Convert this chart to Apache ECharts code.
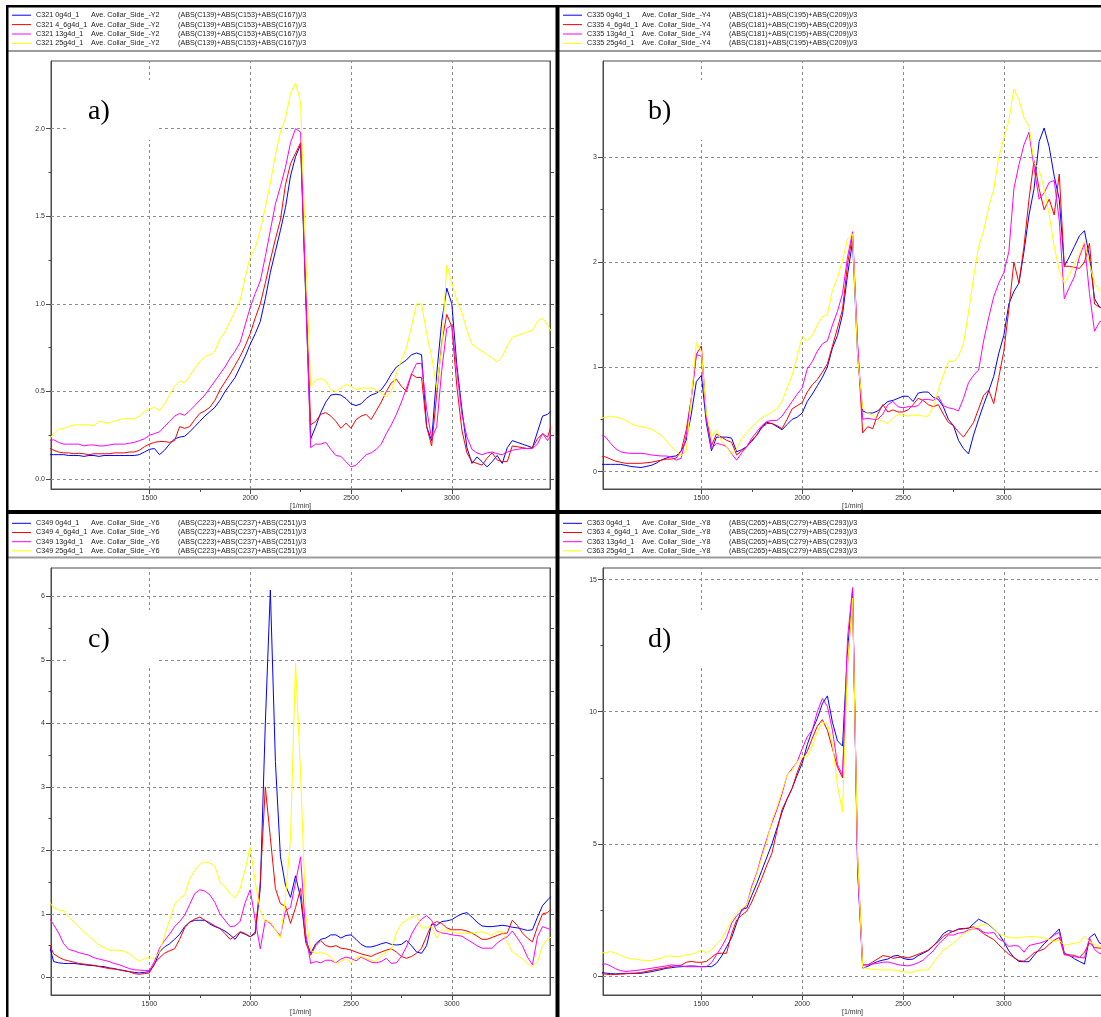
<!DOCTYPE html>
<html>
<head>
<meta charset="utf-8">
<script src="https://cdn.jsdelivr.net/npm/echarts@6/dist/echarts.min.js"></script>
<style>
  html, body { margin: 0; padding: 0; background: #ffffff; }
  #chart { width: 1101px; height: 1017px; }
</style>
</head>
<body>
<div id="chart"></div>
<script>
// Engine speed grid shared by every trace [1/min]
const RPM = [
  1000,1025,1050,1075,1100,1125,1150,1175,1200,1225,
  1250,1275,1300,1325,1350,1375,1400,1425,1450,1475,
  1500,1525,1550,1575,1600,1625,1650,1675,1700,1725,
  1750,1775,1800,1825,1850,1875,1900,1925,1950,1975,
  2000,2025,2050,2075,2100,2125,2150,2175,2200,2225,
  2250,2275,2300,2325,2350,2375,2400,2425,2450,2475,
  2500,2525,2550,2575,2600,2625,2650,2675,2700,2725,
  2750,2775,2800,2825,2850,2875,2900,2925,2950,2975,
  3000,3025,3050,3075,3100,3125,3150,3175,3200,3225,
  3250,3275,3300,3325,3350,3375,3400,3425,3450,3475,
  3500
];

// a) C321 Ave. Collar_Side_-Y2
const A_0 = [
  0.14,0.14,0.14,0.14,0.135,0.135,0.135,0.13,0.135,0.135,
  0.13,0.135,0.135,0.135,0.135,0.135,0.135,0.135,0.14,0.155,
  0.17,0.175,0.14,0.165,0.2,0.23,0.24,0.245,0.27,0.3,
  0.33,0.36,0.385,0.41,0.45,0.5,0.54,0.58,0.64,0.7,
  0.77,0.83,0.9,1.03,1.18,1.3,1.42,1.55,1.73,1.84,
  1.91,1.05,0.23,0.3,0.38,0.44,0.48,0.485,0.48,0.46,
  0.43,0.42,0.43,0.46,0.48,0.49,0.51,0.55,0.6,0.64,
  0.66,0.68,0.71,0.72,0.71,0.3,0.22,0.6,0.9,1.09,
  1.0,0.65,0.4,0.18,0.09,0.127,0.1,0.07,0.1,0.135,
  0.09,0.18,0.22,0.21,0.2,0.19,0.18,0.27,0.36,0.37,
  0.4
];
const A_4 = [
  0.18,0.165,0.155,0.15,0.15,0.145,0.148,0.145,0.14,0.145,
  0.145,0.145,0.145,0.15,0.15,0.15,0.155,0.155,0.165,0.185,
  0.2,0.21,0.215,0.215,0.21,0.22,0.3,0.29,0.3,0.34,
  0.375,0.39,0.41,0.45,0.51,0.555,0.6,0.65,0.7,0.76,
  0.83,0.92,1.0,1.12,1.25,1.37,1.48,1.68,1.8,1.86,
  1.92,1.1,0.31,0.33,0.37,0.38,0.36,0.33,0.29,0.32,
  0.29,0.34,0.36,0.37,0.34,0.39,0.44,0.5,0.55,0.57,
  0.53,0.5,0.6,0.58,0.58,0.3,0.19,0.48,0.78,0.94,
  0.87,0.53,0.28,0.15,0.1,0.09,0.08,0.12,0.15,0.11,
  0.1,0.1,0.19,0.185,0.18,0.175,0.18,0.23,0.26,0.24,
  0.33
];
const A_13 = [
  0.22,0.225,0.21,0.2,0.2,0.2,0.2,0.19,0.195,0.195,
  0.19,0.19,0.195,0.2,0.2,0.2,0.205,0.21,0.22,0.23,
  0.25,0.26,0.27,0.3,0.33,0.36,0.375,0.365,0.39,0.42,
  0.45,0.48,0.52,0.56,0.6,0.64,0.69,0.73,0.78,0.88,
  0.98,1.06,1.13,1.27,1.42,1.57,1.67,1.78,1.92,2.0,
  1.98,1.08,0.18,0.2,0.2,0.21,0.17,0.135,0.13,0.1,
  0.07,0.08,0.11,0.14,0.15,0.17,0.2,0.26,0.31,0.37,
  0.44,0.52,0.6,0.66,0.66,0.4,0.23,0.3,0.62,0.86,
  0.88,0.62,0.37,0.24,0.17,0.15,0.14,0.15,0.155,0.145,
  0.14,0.155,0.165,0.17,0.175,0.175,0.175,0.2,0.26,0.22,
  0.27
];
const A_25 = [
  0.22,0.26,0.285,0.29,0.3,0.31,0.31,0.31,0.31,0.305,
  0.33,0.325,0.32,0.33,0.34,0.345,0.345,0.345,0.36,0.385,
  0.4,0.41,0.39,0.43,0.48,0.53,0.56,0.55,0.59,0.63,
  0.67,0.7,0.71,0.73,0.8,0.84,0.9,0.96,1.02,1.15,
  1.27,1.32,1.42,1.55,1.69,1.85,1.98,2.06,2.2,2.26,
  2.15,1.3,0.53,0.565,0.575,0.56,0.51,0.5,0.52,0.54,
  0.53,0.51,0.52,0.52,0.52,0.51,0.49,0.47,0.5,0.6,
  0.68,0.75,0.87,1.0,1.0,0.83,0.7,0.52,0.75,1.22,
  1.12,1.02,0.95,0.85,0.77,0.75,0.73,0.71,0.69,0.67,
  0.7,0.76,0.81,0.82,0.83,0.84,0.85,0.9,0.92,0.88,
  0.83
];

// b) C335 Ave. Collar_Side_-Y4
const B_0 = [
  0.07,0.07,0.07,0.07,0.07,0.06,0.05,0.045,0.04,0.05,
  0.06,0.08,0.11,0.13,0.145,0.15,0.2,0.3,0.55,0.86,
  0.92,0.46,0.2,0.33,0.33,0.33,0.32,0.19,0.21,0.24,
  0.29,0.35,0.43,0.47,0.46,0.43,0.4,0.45,0.5,0.52,
  0.56,0.67,0.74,0.82,0.9,1.0,1.18,1.3,1.5,1.88,
  2.2,1.1,0.58,0.56,0.56,0.58,0.63,0.67,0.68,0.7,
  0.72,0.72,0.67,0.75,0.76,0.76,0.71,0.69,0.62,0.5,
  0.44,0.3,0.22,0.17,0.35,0.5,0.64,0.77,0.91,1.13,
  1.3,1.6,1.72,1.8,2.1,2.45,2.7,3.15,3.28,3.1,
  2.82,2.6,1.96,2.05,2.15,2.25,2.3,2.05,1.65,1.57,
  1.55
];
const B_4 = [
  0.15,0.14,0.12,0.1,0.09,0.08,0.08,0.08,0.08,0.085,
  0.09,0.1,0.11,0.12,0.12,0.13,0.2,0.4,0.7,1.12,
  1.2,0.52,0.25,0.36,0.33,0.3,0.28,0.16,0.2,0.24,
  0.3,0.35,0.42,0.46,0.46,0.44,0.41,0.5,0.6,0.63,
  0.66,0.76,0.83,0.88,0.95,1.03,1.2,1.37,1.55,1.98,
  2.26,1.2,0.37,0.43,0.41,0.55,0.64,0.57,0.59,0.57,
  0.57,0.59,0.64,0.7,0.68,0.64,0.62,0.64,0.55,0.47,
  0.44,0.38,0.33,0.4,0.47,0.6,0.73,0.78,0.65,0.9,
  1.15,1.55,2.0,1.8,2.15,2.6,2.97,2.7,2.5,2.6,
  2.45,2.84,1.96,1.96,1.95,1.94,2.0,2.18,1.6,1.57,
  1.55
];
const B_13 = [
  0.35,0.33,0.27,0.22,0.19,0.18,0.175,0.175,0.175,0.17,
  0.16,0.155,0.15,0.15,0.14,0.11,0.13,0.35,0.7,1.12,
  1.1,0.5,0.22,0.27,0.26,0.24,0.17,0.11,0.18,0.24,
  0.32,0.38,0.44,0.48,0.49,0.49,0.53,0.6,0.67,0.74,
  0.8,0.98,1.05,1.15,1.22,1.25,1.4,1.53,1.7,2.05,
  2.29,1.2,0.5,0.51,0.5,0.5,0.55,0.64,0.67,0.62,
  0.61,0.62,0.62,0.63,0.69,0.69,0.68,0.72,0.63,0.61,
  0.6,0.58,0.7,0.85,0.92,0.97,1.25,1.47,1.67,1.8,
  1.9,2.1,2.7,2.93,3.12,3.24,2.9,2.6,2.66,2.76,
  2.78,2.4,1.65,1.76,1.86,2.05,2.18,1.7,1.34,1.43,
  1.45
];
const B_25 = [
  0.51,0.52,0.53,0.52,0.51,0.49,0.46,0.44,0.43,0.42,
  0.41,0.38,0.35,0.3,0.24,0.2,0.15,0.2,0.7,1.23,
  1.15,0.55,0.33,0.4,0.29,0.24,0.16,0.22,0.32,0.37,
  0.43,0.47,0.52,0.54,0.57,0.6,0.67,0.8,0.92,1.1,
  1.29,1.25,1.3,1.4,1.48,1.5,1.73,1.85,2.02,2.22,
  2.27,1.1,0.6,0.56,0.54,0.5,0.48,0.46,0.51,0.55,
  0.54,0.53,0.54,0.54,0.53,0.53,0.62,0.78,0.92,1.05,
  1.05,1.1,1.22,1.52,1.85,2.15,2.3,2.52,2.7,3.0,
  3.18,3.35,3.65,3.55,3.38,3.3,2.95,2.88,2.7,2.45,
  2.15,1.92,1.8,1.88,1.98,2.08,2.2,1.98,1.8,1.73,
  1.7
];

// c) C349 Ave. Collar_Side_-Y6
const C_0 = [
  0.55,0.25,0.23,0.22,0.22,0.22,0.21,0.2,0.19,0.185,
  0.175,0.17,0.15,0.14,0.12,0.11,0.09,0.08,0.07,0.08,
  0.09,0.2,0.4,0.48,0.53,0.6,0.68,0.8,0.87,0.9,
  0.9,0.9,0.84,0.8,0.77,0.73,0.67,0.6,0.71,0.68,
  0.64,0.69,1.4,4.0,6.1,3.4,1.9,1.45,1.26,1.6,
  1.25,0.6,0.38,0.53,0.6,0.62,0.67,0.67,0.62,0.66,
  0.67,0.6,0.52,0.48,0.48,0.5,0.53,0.55,0.52,0.51,
  0.52,0.58,0.5,0.4,0.38,0.5,0.84,0.82,0.88,0.89,
  0.91,0.96,1.0,1.02,0.95,0.87,0.81,0.8,0.8,0.81,
  0.82,0.81,0.79,0.78,0.76,0.74,0.75,0.95,1.13,1.22,
  1.3
];
const C_4 = [
  0.55,0.37,0.32,0.28,0.26,0.24,0.22,0.21,0.2,0.19,
  0.17,0.155,0.14,0.13,0.12,0.1,0.09,0.06,0.05,0.06,
  0.07,0.22,0.31,0.38,0.42,0.45,0.6,0.78,0.87,0.92,
  0.95,0.9,0.86,0.81,0.77,0.69,0.6,0.65,0.72,0.69,
  0.64,0.72,1.5,3.0,2.2,1.4,1.16,1.12,0.85,1.1,
  1.4,0.55,0.35,0.5,0.58,0.5,0.48,0.5,0.46,0.45,
  0.43,0.4,0.37,0.35,0.33,0.37,0.4,0.43,0.45,0.4,
  0.33,0.3,0.33,0.38,0.46,0.65,0.83,0.88,0.85,0.78,
  0.75,0.75,0.75,0.73,0.7,0.65,0.6,0.6,0.63,0.66,
  0.69,0.7,0.9,0.82,0.7,0.62,0.56,0.8,1.0,1.02,
  1.1
];
const C_13 = [
  0.95,0.83,0.7,0.53,0.44,0.42,0.39,0.37,0.35,0.31,
  0.29,0.27,0.25,0.22,0.2,0.17,0.14,0.12,0.115,0.11,
  0.11,0.25,0.46,0.58,0.68,0.8,0.88,0.98,1.15,1.32,
  1.38,1.36,1.3,1.18,1.0,0.9,0.8,0.81,0.88,1.18,
  1.38,0.9,0.45,0.9,0.85,0.75,0.65,1.05,1.1,1.5,
  1.9,0.7,0.22,0.25,0.23,0.27,0.27,0.23,0.29,0.32,
  0.3,0.26,0.32,0.28,0.24,0.23,0.25,0.3,0.22,0.23,
  0.33,0.48,0.68,0.82,0.92,0.97,0.9,0.73,0.7,0.69,
  0.67,0.66,0.65,0.6,0.55,0.5,0.46,0.46,0.46,0.54,
  0.6,0.64,0.73,0.62,0.5,0.32,0.2,0.64,0.8,0.77,
  0.75
];
const C_25 = [
  1.2,1.1,1.06,1.05,0.95,0.88,0.8,0.72,0.65,0.58,
  0.51,0.47,0.43,0.43,0.43,0.41,0.38,0.31,0.25,0.3,
  0.31,0.3,0.4,0.65,0.9,1.15,1.24,1.3,1.55,1.68,
  1.78,1.82,1.8,1.75,1.5,1.43,1.32,1.25,1.4,1.7,
  2.05,1.5,1.05,0.87,0.88,0.75,0.62,1.25,2.2,4.95,
  3.2,1.0,0.42,0.38,0.39,0.37,0.32,0.22,0.25,0.3,
  0.23,0.3,0.33,0.3,0.27,0.25,0.35,0.4,0.45,0.7,
  0.85,0.9,0.95,0.98,0.78,0.78,0.8,0.62,0.75,0.74,
  0.72,0.7,0.69,0.69,0.7,0.71,0.72,0.69,0.66,0.72,
  0.72,0.55,0.4,0.35,0.29,0.22,0.17,0.25,0.5,0.6,
  0.65
];

// d) C363 Ave. Collar_Side_-Y8
const D_0 = [
  0.13,0.11,0.09,0.08,0.09,0.1,0.1,0.1,0.1,0.13,
  0.16,0.2,0.24,0.29,0.31,0.34,0.35,0.37,0.38,0.37,
  0.35,0.36,0.35,0.48,0.75,1.1,1.45,2.0,2.52,2.57,
  3.05,3.5,4.0,4.5,5.0,5.6,6.2,6.7,7.1,7.6,
  8.05,8.75,9.3,9.75,10.3,10.6,9.6,8.9,8.7,12.3,
  14.6,4.0,0.3,0.36,0.47,0.55,0.6,0.64,0.75,0.78,
  0.67,0.62,0.64,0.77,0.86,0.96,1.13,1.35,1.6,1.72,
  1.68,1.78,1.8,1.8,1.98,2.15,2.05,1.95,1.78,1.6,
  1.3,0.95,0.7,0.55,0.54,0.54,0.78,1.0,1.22,1.4,
  1.58,1.78,0.86,0.78,0.65,0.55,0.45,1.45,1.6,1.24,
  1.2
];
const D_4 = [
  0.1,0.07,0.05,0.06,0.07,0.08,0.1,0.11,0.13,0.17,
  0.21,0.25,0.28,0.32,0.36,0.39,0.41,0.52,0.55,0.52,
  0.52,0.55,0.7,0.85,0.86,0.86,1.6,2.12,2.3,2.45,
  2.8,3.25,3.7,4.2,4.65,5.5,6.3,6.7,7.1,7.7,
  8.2,8.5,9.0,9.45,9.7,9.3,8.6,7.9,7.5,11.8,
  14.35,4.5,0.42,0.42,0.53,0.65,0.77,0.74,0.67,0.7,
  0.73,0.68,0.75,0.82,0.9,0.98,1.15,1.3,1.5,1.6,
  1.7,1.76,1.78,1.82,1.86,1.75,1.6,1.48,1.38,1.18,
  1.0,0.82,0.7,0.58,0.56,0.7,0.88,0.95,1.02,1.2,
  1.35,1.46,0.8,0.8,0.78,0.7,0.9,1.25,1.08,1.05,
  1.05
];
const D_13 = [
  0.42,0.46,0.38,0.27,0.2,0.17,0.19,0.21,0.23,0.26,
  0.29,0.32,0.35,0.38,0.42,0.4,0.38,0.35,0.35,0.35,
  0.35,0.35,0.5,0.8,1.1,1.45,2.0,2.28,2.45,2.69,
  3.4,3.9,4.6,5.2,5.8,6.3,6.9,7.6,7.85,8.1,
  8.6,9.05,9.3,10.0,10.5,10.2,9.3,8.0,7.6,12.8,
  14.7,4.0,0.42,0.42,0.45,0.48,0.52,0.53,0.48,0.43,
  0.4,0.38,0.43,0.5,0.6,0.78,0.95,1.2,1.38,1.55,
  1.55,1.62,1.65,1.74,1.78,1.8,1.65,1.62,1.65,1.4,
  1.3,1.12,1.15,1.13,0.9,1.15,1.2,1.24,1.3,1.4,
  1.55,1.65,0.83,0.76,0.73,0.7,0.68,1.45,1.0,0.85,
  0.85
];
const D_25 = [
  0.86,0.89,0.92,0.86,0.78,0.7,0.66,0.63,0.6,0.59,
  0.58,0.63,0.67,0.75,0.75,0.73,0.75,0.8,0.82,0.88,
  0.98,0.87,1.0,1.2,1.4,1.74,2.1,2.37,2.55,2.69,
  3.3,3.85,4.5,5.1,5.9,6.4,7.0,7.6,7.8,8.1,
  8.32,8.3,8.7,9.25,9.6,9.55,8.8,7.2,6.2,11.8,
  14.3,4.5,0.32,0.28,0.25,0.23,0.23,0.23,0.23,0.2,
  0.16,0.14,0.15,0.21,0.23,0.23,0.5,0.75,0.98,1.1,
  1.24,1.42,1.6,1.7,1.8,1.88,1.95,1.97,1.8,1.6,
  1.52,1.47,1.44,1.44,1.48,1.49,1.49,1.47,1.43,1.38,
  1.3,1.35,1.17,1.2,1.24,1.27,1.5,1.3,1.2,1.12,
  1.1
];

// Tick values
const X_TICKS = [1500, 2000, 2500, 3000];
const X_MINOR = [1750, 2250, 2750];
const Y_TICKS_A = [0, 0.5, 1, 1.5, 2];
const Y_MINOR_A = [0.25, 0.75, 1.25, 1.75];
const Y_TICKS_B = [0, 1, 2, 3];
const Y_MINOR_B = [0.5, 1.5, 2.5];
const Y_TICKS_C = [0, 1, 2, 3, 4, 5, 6];
const Y_MINOR_C = [0.5, 1.5, 2.5, 3.5, 4.5, 5.5];
const Y_TICKS_D = [0, 5, 10, 15];
const Y_MINOR_D = [2.5, 7.5, 12.5];

// Legend texts
const CHANNELS = ['C321', 'C335', 'C349', 'C363'];
const SAMPLES = ['0g4d_1', '4_6g4d_1', '13g4d_1', '25g4d_1'];
const CHANNEL_DESC = ['Ave. Collar_Side_-Y2', 'Ave. Collar_Side_-Y4', 'Ave. Collar_Side_-Y6', 'Ave. Collar_Side_-Y8'];
const FORMULAS = [
  '(ABS(C139)+ABS(C153)+ABS(C167))/3',
  '(ABS(C181)+ABS(C195)+ABS(C209))/3',
  '(ABS(C223)+ABS(C237)+ABS(C251))/3',
  '(ABS(C265)+ABS(C279)+ABS(C293))/3'
];
const PANEL_TAGS = ['a)', 'b)', 'c)', 'd)'];
const X_NAME = '[1/min]';

// Styling
const COLORS = ['#0000ff', '#ff0000', '#ff00ff', '#ffff00'];
const SANS = "'Liberation Sans', Arial, Helvetica, sans-serif";
const SERIF = "'Liberation Serif', 'Times New Roman', Times, serif";
const AXIS_COLOR = '#4a4a4a';
const GRID_LINE = '#8c8c8c';
const LABEL_COLOR = '#333333';
const X_MIN = 1012, X_MAX = 3487;

const PANELS = [
  { values: [A_0, A_4, A_13, A_25], yTicks: Y_TICKS_A, yMinor: Y_MINOR_A, yMin: -0.056, yMax: 2.386, dec: 1,
    left: 51, top: 61, height: 428, lgX: 12, lgY: 15.2, lgStep: 9.4, sepY: 50, tagX: 88, tagY: 111.5, boxX: 68, boxY: 80, boxH: 60 },
  { values: [B_0, B_4, B_13, B_25], yTicks: Y_TICKS_B, yMinor: Y_MINOR_B, yMin: -0.165, yMax: 3.919, dec: 0,
    left: 603, top: 61, height: 428, lgX: 563, lgY: 15.2, lgStep: 9.4, sepY: 50, tagX: 648, tagY: 111.5, boxX: 628, boxY: 80, boxH: 60 },
  { values: [C_0, C_4, C_13, C_25], yTicks: Y_TICKS_C, yMinor: Y_MINOR_C, yMin: -0.277, yMax: 6.447, dec: 0,
    left: 51, top: 568, height: 427, lgX: 12, lgY: 523.3, lgStep: 9.2, sepY: 556.5, tagX: 88, tagY: 639.5, boxX: 68, boxY: 610, boxH: 58 },
  { values: [D_0, D_4, D_13, D_25], yTicks: Y_TICKS_D, yMinor: Y_MINOR_D, yMin: -0.72, yMax: 15.44, dec: 0,
    left: 603, top: 568, height: 427, lgX: 563, lgY: 523.3, lgStep: 9.2, sepY: 556.5, tagX: 648, tagY: 639.5, boxX: 628, boxY: 610, boxH: 58 }
];

const grids = [], xAxes = [], yAxes = [], series = [], graphics = [];

PANELS.forEach((p, pi) => {
  grids.push({
    left: p.left, top: p.top, width: 499, height: p.height,
    show: true, borderColor: AXIS_COLOR, borderWidth: 1, backgroundColor: 'transparent',
    containLabel: false, outerBoundsMode: 'none'
  });

  // main x axis with labels and major ticks
  xAxes.push({
    gridIndex: pi, type: 'value', position: 'bottom', min: X_MIN, max: X_MAX,
    axisLine: { show: true, onZero: false, lineStyle: { color: AXIS_COLOR, width: 1 } },
    axisTick: { show: true, inside: false, length: 5, customValues: X_TICKS, lineStyle: { color: AXIS_COLOR } },
    axisLabel: { show: true, customValues: X_TICKS, margin: 6, fontSize: 7, fontFamily: SANS, color: LABEL_COLOR,
                 formatter: (v) => String(Math.round(v)) },
    splitLine: { show: false },
    name: X_NAME, nameLocation: 'middle', nameGap: 13,
    nameTextStyle: { fontSize: 7, fontFamily: SANS, color: LABEL_COLOR }
  });
  // minor x ticks
  xAxes.push({
    gridIndex: pi, type: 'value', position: 'bottom', min: X_MIN, max: X_MAX,
    axisLine: { show: false, onZero: false },
    axisTick: { show: true, inside: false, length: 3, customValues: X_MINOR, lineStyle: { color: AXIS_COLOR } },
    axisLabel: { show: false }, splitLine: { show: false }
  });

  // main y axis
  yAxes.push({
    gridIndex: pi, type: 'value', position: 'left', min: p.yMin, max: p.yMax,
    axisLine: { show: true, onZero: false, lineStyle: { color: AXIS_COLOR, width: 1 } },
    axisTick: { show: true, inside: false, length: 5, customValues: p.yTicks, lineStyle: { color: AXIS_COLOR } },
    axisLabel: {
      show: true, customValues: p.yTicks, margin: 6, fontSize: 7, fontFamily: SANS, color: LABEL_COLOR,
      formatter: (v) => Number(v).toFixed(p.dec)
    },
    splitLine: { show: false }
  });
  // minor y ticks
  yAxes.push({
    gridIndex: pi, type: 'value', position: 'left', min: p.yMin, max: p.yMax,
    axisLine: { show: false, onZero: false },
    axisTick: { show: true, inside: false, length: 2.5, customValues: p.yMinor, lineStyle: { color: AXIS_COLOR } },
    axisLabel: { show: false }, splitLine: { show: false }
  });
  // right frame with ticks
  yAxes.push({
    gridIndex: pi, type: 'value', position: 'right', min: p.yMin, max: p.yMax,
    axisLine: { show: true, onZero: false, lineStyle: { color: AXIS_COLOR, width: 1 } },
    axisTick: { show: true, inside: false, length: 4, customValues: p.yTicks.concat(p.yMinor), lineStyle: { color: AXIS_COLOR } },
    axisLabel: { show: false }, splitLine: { show: false }
  });

  p.values.forEach((vals, k) => {
    const s = {
      type: 'line',
      name: CHANNELS[pi] + ' ' + SAMPLES[k],
      xAxisIndex: pi * 2, yAxisIndex: pi * 3,
      data: RPM.map((r, i) => [r, vals[i]]),
      showSymbol: false, symbol: 'none', silent: true, clip: true, animation: false,
      lineStyle: { color: COLORS[k], width: 1 },
      itemStyle: { color: COLORS[k] },
      emphasis: { disabled: true }
    };
    if (k === 0) {
      // dashed grid
      s.markLine = {
        silent: true, symbol: ['none', 'none'], z: 1, animation: false,
        label: { show: false }, emphasis: { disabled: true },
        lineStyle: { color: GRID_LINE, type: [3, 3], width: 1 },
        data: p.yTicks.map(v => ({ yAxis: v })).concat(X_TICKS.map(v => ({ xAxis: v })))
      };
    }
    series.push(s);

    // legend row
    const ly = p.lgY + k * p.lgStep;
    graphics.push({ type: 'line', silent: true, z: 30,
      shape: { x1: p.lgX, y1: ly, x2: p.lgX + 19, y2: ly },
      style: { stroke: COLORS[k], lineWidth: 1 } });
    const txt = (x, t) => ({ type: 'text', silent: true, z: 30, x: x, y: ly,
      style: { text: t, fontSize: 7.2, fontFamily: SANS, fill: '#222',
               align: 'left', textAlign: 'left', verticalAlign: 'middle', textVerticalAlign: 'middle' } });
    graphics.push(txt(p.lgX + 24, CHANNELS[pi] + ' ' + SAMPLES[k]));
    graphics.push(txt(p.lgX + 79, CHANNEL_DESC[pi]));
    graphics.push(txt(p.lgX + 166, FORMULAS[pi]));
  });

  // separator under the legend
  graphics.push({ type: 'rect', silent: true, z: 25,
    shape: { x: p.left < 300 ? 8 : 559, y: p.sepY, width: 548, height: 2 },
    style: { fill: '#9c9c9c' } });

  // panel tag with white backing
  graphics.push({ type: 'rect', silent: true, z: 10,
    shape: { x: p.boxX, y: p.boxY, width: 89, height: p.boxH }, style: { fill: '#ffffff' } });
  graphics.push({ type: 'text', silent: true, z: 11, x: p.tagX, y: p.tagY,
    style: { text: PANEL_TAGS[pi], fontSize: 28, fontFamily: SERIF, fill: '#000',
             align: 'left', textAlign: 'left', verticalAlign: 'middle', textVerticalAlign: 'middle' } });
});

// black panel frame
[
  { x: 6, y: 5, width: 1095, height: 2.5 },
  { x: 6, y: 5, width: 2.5, height: 1012 },
  { x: 555.5, y: 5, width: 4, height: 1012 },
  { x: 6, y: 510, width: 1095, height: 4 }
].forEach(r => graphics.push({ type: 'rect', silent: true, z: 40, shape: r, style: { fill: '#000' } }));

const chart = echarts.init(document.getElementById('chart'), null, { renderer: 'canvas', width: 1101, height: 1017 });
chart.setOption({
  backgroundColor: '#ffffff',
  animation: false,
  grid: grids,
  xAxis: xAxes,
  yAxis: yAxes,
  series: series,
  graphic: { elements: graphics }
});
</script>
</body>
</html>
